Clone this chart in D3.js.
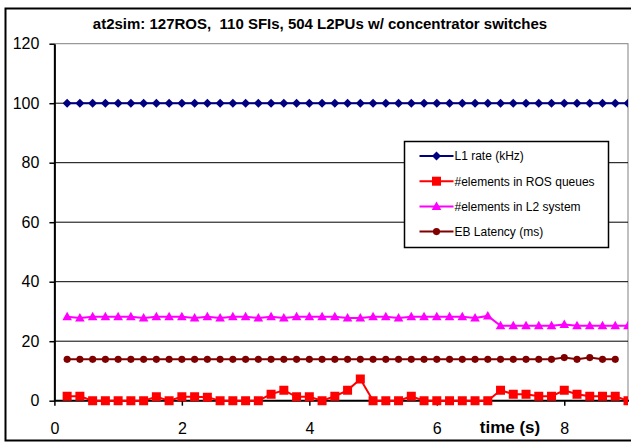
<!DOCTYPE html>
<html>
<head>
<meta charset="UTF-8" />
<title>at2sim chart</title>
<script src="https://cdn.jsdelivr.net/npm/d3@7"></script>
<style>
  body { margin: 0; background: #fff; }
  svg { display: block; font-family: "Liberation Sans", Arial, sans-serif; }
</style>
</head>
<body>
<div id="chart"></div>
<script>
// data (time step 0.2 s)
const times = [0.2, 0.4, 0.6, 0.8, 1.0, 1.2, 1.4, 1.6, 1.8, 2.0,
               2.2, 2.4, 2.6, 2.8, 3.0, 3.2, 3.4, 3.6, 3.8, 4.0,
               4.2, 4.4, 4.6, 4.8, 5.0, 5.2, 5.4, 5.6, 5.8, 6.0,
               6.2, 6.4, 6.6, 6.8, 7.0, 7.2, 7.4, 7.6, 7.8, 8.0,
               8.2, 8.4, 8.6, 8.8, 9.0];
const l1Rate = [100, 100, 100, 100, 100, 100, 100, 100, 100, 100,
                100, 100, 100, 100, 100, 100, 100, 100, 100, 100,
                100, 100, 100, 100, 100, 100, 100, 100, 100, 100,
                100, 100, 100, 100, 100, 100, 100, 100, 100, 100,
                100, 100, 100, 100, 100];
const rosQueues = [1.5, 1.5, 0, 0, 0, 0, 0, 1.3, 0, 1.3,
                   1.3, 1.2, 0, 0, 0, 0, 2.2, 3.5, 1.3, 1.3,
                   0, 1.5, 3.5, 7.3, 0, 0, 0, 1.5, 0, 0,
                   0, 0, 0, 0, 3.5, 2.2, 2.2, 1.5, 1.5, 3.5,
                   2.2, 1.5, 1.5, 1.5, 0];
const l2System = [28.2, 27.8, 28.2, 28.2, 28.2, 28.2, 27.8, 28.2, 28.2, 28.2,
                  27.8, 28.2, 27.8, 28.2, 28.2, 27.8, 28.2, 27.8, 28.2, 28.2,
                  28.2, 28.2, 27.8, 27.8, 28.2, 28.2, 27.8, 28.2, 28.2, 28.2,
                  28.2, 28.2, 27.8, 28.5, 25.2, 25.2, 25.2, 25.2, 25.2, 25.6,
                  25.2, 25.2, 25.2, 25.2, 25.2];
const ebLatency = [13.9, 13.9, 13.9, 13.9, 13.9, 13.9, 13.9, 13.9, 13.9, 13.9,
                   13.9, 13.9, 13.9, 13.9, 13.9, 13.9, 13.9, 13.9, 13.9, 13.9,
                   13.9, 13.9, 13.9, 13.9, 13.9, 13.9, 13.9, 13.9, 13.9, 13.9,
                   13.9, 13.9, 13.9, 13.9, 13.9, 13.9, 13.9, 13.9, 13.9, 14.5,
                   13.9, 14.5, 13.9, 13.9];
const seriesNames = ["L1 rate (kHz)", "#elements in ROS queues",
                     "#elements in L2 system", "EB Latency (ms)"];
const xTicks = [0, 2, 4, 6, 8];
const yTicks = [0, 20, 40, 60, 80, 100, 120];
const chartTitle = "at2sim: 127ROS,  110 SFIs, 504 L2PUs w/ concentrator switches";
const xTitle = "time (s)";

const series = [
  { name: seriesNames[0], values: l1Rate, color: "#000080", marker: "diamond" },
  { name: seriesNames[1], values: rosQueues, color: "#ff0000", marker: "square" },
  { name: seriesNames[2], values: l2System, color: "#ff00ff", marker: "triangle" },
  { name: seriesNames[3], values: ebLatency, color: "#800000", marker: "circle" }
];

const W = 631, H = 444;
const pLeft = 54.4, pRight = 628, pTop = 43.7, pBottom = 400.7;

const svg = d3.select("#chart").append("svg")
  .attr("width", W).attr("height", H);

// outer chart frame
svg.append("rect")
  .attr("x", 5.5).attr("y", 8.5)
  .attr("width", 660).attr("height", 432)
  .attr("fill", "#fff").attr("stroke", "#000").attr("stroke-width", 2);

const x = d3.scaleLinear().domain([0, 9]).range([pLeft, pRight]);
const y = d3.scaleLinear().domain([0, 120]).range([pBottom, pTop]);

// plot area border
svg.append("rect")
  .attr("x", pLeft).attr("y", y(120))
  .attr("width", pRight - pLeft).attr("height", pBottom - y(120))
  .attr("fill", "none").attr("stroke", "#808080").attr("stroke-width", 1);

// grid
svg.append("g").selectAll("line")
  .data(yTicks.filter(d => d > 0 && d < 120))
  .enter().append("line")
  .attr("x1", pLeft).attr("x2", pRight)
  .attr("y1", d => y(d)).attr("y2", d => y(d))
  .attr("stroke", "#000").attr("stroke-width", 1);

// axes
const yAxis = svg.append("g")
  .attr("transform", "translate(" + pLeft + ",0)")
  .call(d3.axisLeft(y).tickValues(yTicks).tickSize(5).tickSizeOuter(0).tickPadding(10));
const xAxis = svg.append("g")
  .attr("transform", "translate(0," + pBottom + ")")
  .call(d3.axisBottom(x).tickValues(xTicks).tickSize(5).tickSizeOuter(0).tickPadding(17));
[xAxis, yAxis].forEach(g => {
  g.select(".domain").attr("stroke", "#000").attr("stroke-width", 2);
  g.selectAll(".tick line").attr("stroke", "#000").attr("stroke-width", 1.5);
  g.selectAll("text").attr("font-size", 16).attr("fill", "#000")
    .attr("font-family", "Liberation Sans, Arial, sans-serif");
});
xAxis.select(".domain").attr("d", "M" + pLeft + ",0H" + (pRight + 1));

// markers
function markerPath(type) {
  if (type === "diamond") return "M0,-4.5L4.5,0L0,4.5L-4.5,0Z";
  if (type === "square") return "M-4.5,-4.5H4.5V4.5H-4.5Z";
  if (type === "triangle") return "M0,-5L4.8,3.5H-4.8Z";
  return d3.symbol(d3.symbolCircle, 40)();
}

svg.append("clipPath").attr("id", "plotclip")
  .append("rect").attr("x", pLeft - 8).attr("y", pTop - 8)
  .attr("width", pRight - pLeft + 8).attr("height", pBottom - pTop + 16);

const plot = svg.append("g").attr("clip-path", "url(#plotclip)");
const line = d3.line().x(d => x(d[0])).y(d => y(d[1]));

series.forEach(s => {
  const pts = s.values.map((v, i) => [times[i], v]);
  const g = plot.append("g");
  g.append("path").datum(pts)
    .attr("d", line).attr("fill", "none")
    .attr("stroke", s.color).attr("stroke-width", 2);
  g.selectAll("path.m").data(pts).enter().append("path")
    .attr("class", "m")
    .attr("d", markerPath(s.marker))
    .attr("transform", d => "translate(" + x(d[0]) + "," + y(d[1]) + ")")
    .attr("fill", s.color);
});

// legend
const lg = svg.append("g").attr("transform", "translate(404.5,141.5)");
lg.append("rect").attr("width", 204).attr("height", 106)
  .attr("fill", "#fff").attr("stroke", "#000").attr("stroke-width", 1.5);
series.forEach((s, i) => {
  const ry = 14.5 + i * 25.2;
  lg.append("line").attr("x1", 15).attr("x2", 49)
    .attr("y1", ry).attr("y2", ry)
    .attr("stroke", s.color).attr("stroke-width", 2);
  lg.append("path").attr("d", markerPath(s.marker))
    .attr("transform", "translate(32," + ry + ")")
    .attr("fill", s.color);
  lg.append("text").attr("x", 50).attr("y", ry + 4.3)
    .attr("font-size", 12).attr("fill", "#000").text(s.name);
});

// titles
svg.append("text")
  .attr("x", 320).attr("y", 29)
  .attr("text-anchor", "middle")
  .attr("font-size", 15).attr("font-weight", "bold")
  .style("white-space", "pre")
  .text(chartTitle);

svg.append("text")
  .attr("x", 510).attr("y", 433)
  .attr("text-anchor", "middle")
  .attr("font-size", 17).attr("font-weight", "bold")
  .text(xTitle);
</script>
</body>
</html>
